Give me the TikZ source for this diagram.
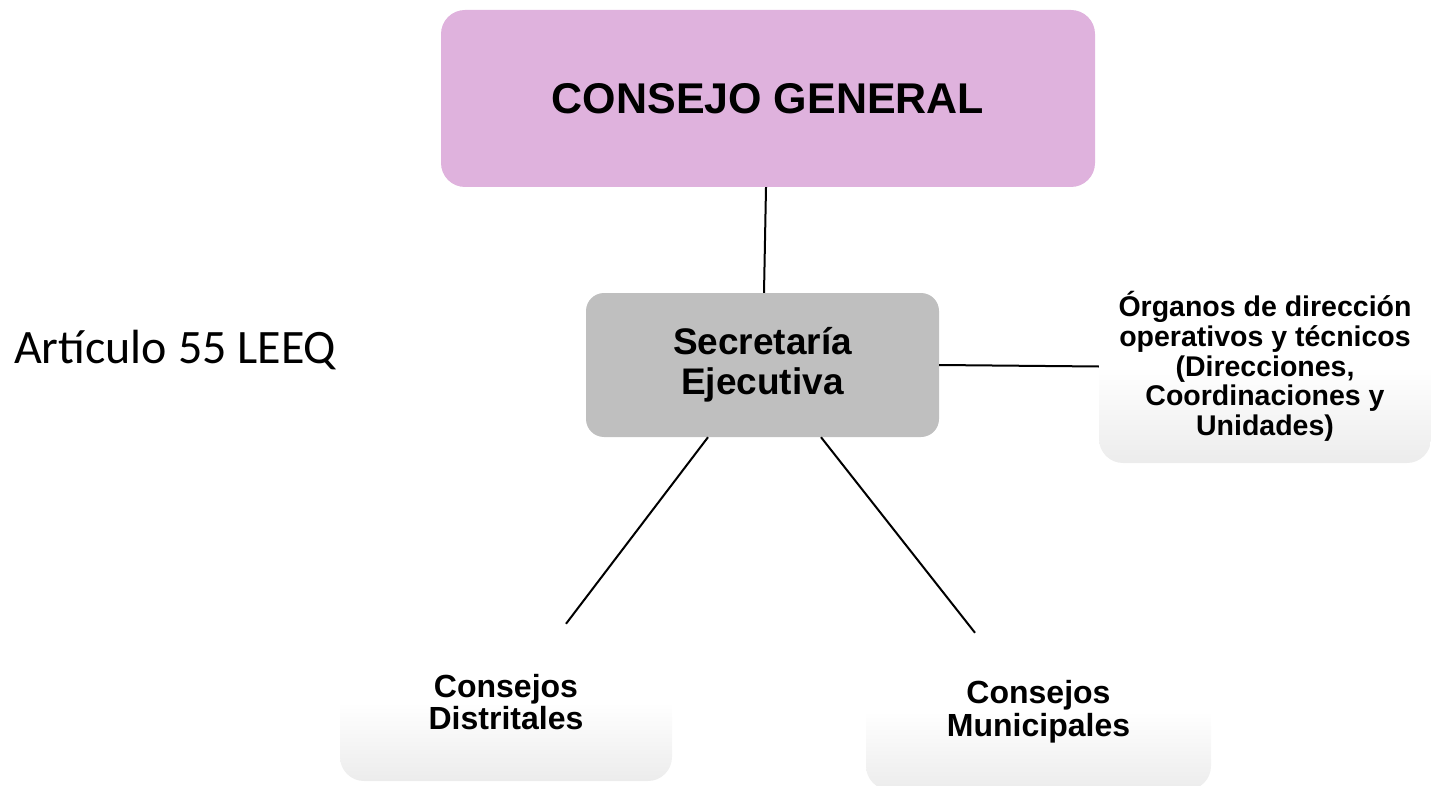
\documentclass[tikz,border=0pt]{standalone}
\usepackage{fontspec}
\setmainfont{Liberation Sans}
\newfontfamily\carl{Carlito}
\usetikzlibrary{calc}
\definecolor{cgpink}{HTML}{DFB2DD}
\definecolor{segray}{HTML}{BFBFBF}
\pgfdeclareverticalshading{fadebox}{100bp}{color(0bp)=(black!15); color(50bp)=(white); color(100bp)=(white)}
\tikzset{
  box/.style={rounded corners=24pt, inner sep=0pt, align=center, font=\bfseries},
  fadedbox/.style={box, shading=fadebox},
  link/.style={line width=2pt, black}
}
\begin{document}
\begin{tikzpicture}[x=1pt,y=-1pt]
\useasboundingbox (0,0) rectangle (1431,786);
\node[box, fill=cgpink, minimum width=654pt, minimum height=177pt,
  font=\bfseries\fontsize{43}{48}\selectfont] (cg) at (768,98.5) {CONSEJO GENERAL};
\node[box, fill=segray, rounded corners=18pt, minimum width=353pt, minimum height=144pt,
  font=\bfseries\fontsize{37}{40}\selectfont] (se) at (762.5,365) {Secretaría\\Ejecutiva};
\begin{scope}
\clip (0,0) rectangle (1431,786);
\node[fadedbox, minimum width=332pt, minimum height=193pt,
  font=\bfseries\fontsize{28.5}{29.75}\selectfont] (org) at (1265,366.5)
  {Órganos de dirección\\operativos y técnicos\\(Direcciones,\\Coordinaciones y\\Unidades)};
\node[fadedbox, minimum width=332pt, minimum height=157pt,
  font=\bfseries\fontsize{32}{32}\selectfont] (dist) at (506,702.5) {Consejos\\Distritales};
\node[fadedbox, minimum width=345pt, minimum height=157pt,
  font=\bfseries\fontsize{32}{33}\selectfont] (muni) at (1038.5,711.5) {Consejos\\Municipales};
\end{scope}
\node[anchor=west, inner sep=0pt, font=\carl\fontsize{48}{52}\selectfont] (art) at (14,350) {Artículo 55 LEEQ};
\draw[link] ([xshift=-2pt]cg.south) -- ([xshift=1.5pt]se.north);
\draw[link] (se.east) -- (org.west);
\draw[link] ([xshift=-54.5pt]se.south) -- ([xshift=60pt]dist.north);
\draw[link] ([xshift=58.5pt]se.south) -- ([xshift=-63.5pt]muni.north);
\end{tikzpicture}
\end{document}
